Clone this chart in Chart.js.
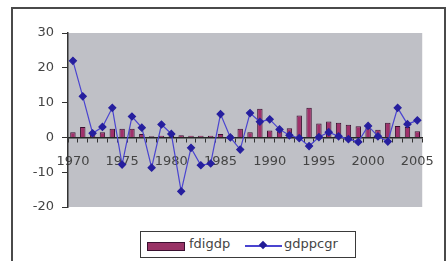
<!DOCTYPE html>
<html>
<head>
<meta charset="utf-8">
<script src="https://cdn.jsdelivr.net/npm/chart.js@4.4.1/dist/chart.umd.min.js"></script>
<style>
    html, body { margin: 0; padding: 0; background: #fff; }
    #wrap { position: relative; width: 446px; height: 261px; overflow: hidden; }
    #frame {
        position: absolute; left: 11px; top: 7px; width: 431px; height: 270px;
        border: 2px solid #4a4a4a; pointer-events: none;
    }
    #legend {
        position: absolute; left: 140px; top: 231px; width: 214px; height: 25px;
        border: 1.5px solid #3a3a3a; background: #fff;
        font: 13px "DejaVu Sans", sans-serif; color: #444;
    }
    .sw-bar { position: absolute; left: 6px; top: 10px; width: 36px; height: 7px; background: #993366; border: 1px solid #3a1030; }
    .sw-line { position: absolute; left: 104px; top: 13px; width: 37px; height: 1.5px; background: #4a44d0; }
    .sw-dot { position: absolute; left: 119px; top: 10px; width: 6px; height: 6px; background: #221c96; transform: rotate(45deg); }
    .lbl { position: absolute; top: 4px; }
</style>
</head>
<body>
<div id="wrap">
    <canvas id="chart" width="446" height="261"></canvas>
    <div id="frame"></div>
    <div id="legend">
        <div class="sw-bar"></div><span class="lbl" style="left:48px">fdigdp</span>
        <div class="sw-line"></div><div class="sw-dot"></div><span class="lbl" style="left:143px">gdppcgr</span>
    </div>
</div>
<script>
// Data
const years = ["1970","1971","1972","1973","1974","1975","1976","1977","1978","1979",
               "1980","1981","1982","1983","1984","1985","1986","1987","1988","1989",
               "1990","1991","1992","1993","1994","1995","1996","1997","1998","1999",
               "2000","2001","2002","2003","2004","2005"];

const fdigdp = [1.5, 3, 1, 1.5, 2.5, 2.5, 2.5, 1, 0.3, 0.5,
                0.5, 0.6, 0.5, 0.5, 0.5, 1, 0.6, 2.5, 1.5, 8.2,
                2, 1.8, 2.6, 6.3, 8.5, 4, 4.6, 4.2, 3.6, 3.2,
                2.7, 2.2, 4.2, 3.3, 3, 1.8];

const gdppcgr = [22, 11.8, 1.2, 3, 8.5, -7.8, 6, 2.8, -8.7, 3.7,
                 1, -15.5, -3, -8, -7.5, 6.7, 0, -3.5, 7, 4.5,
                 5.2, 2.3, 0.6, -0.2, -2.5, 0.1, 1.5, 0.3, -0.5, -1.3,
                 3.3, 0.3, -1.2, 8.5, 3.8, 4.9];

const yTicks = [-20, -10, 0, 10, 20, 30];

// Plot area background
const plotBg = {
    id: 'plotBg',
    beforeDraw(chart) {
        const { ctx, chartArea: a } = chart;
        ctx.save();
        ctx.fillStyle = '#fff';
        ctx.fillRect(0, 0, chart.width, chart.height);
        ctx.fillStyle = '#bfc0c6';
        ctx.fillRect(a.left, a.top, a.right - a.left, a.bottom - a.top);
        ctx.restore();
    }
};

Chart.defaults.font.family = '"DejaVu Sans", sans-serif';
Chart.defaults.font.size = 13;
Chart.defaults.color = '#444';

new Chart(document.getElementById('chart'), {
    data: {
        labels: years,
        datasets: [
            {
                type: 'line',
                label: 'gdppcgr',
                data: gdppcgr,
                borderColor: '#4a44d0',
                borderWidth: 1.2,
                pointStyle: 'rectRot',
                pointRadius: 3.5,
                pointBackgroundColor: '#261f9e',
                pointBorderColor: '#261f9e',
                tension: 0,
                order: 0
            },
            {
                type: 'bar',
                label: 'fdigdp',
                data: fdigdp,
                backgroundColor: '#a0306a',
                borderColor: '#3a1030',
                borderWidth: 1,
                barPercentage: 0.55,
                categoryPercentage: 1,
                order: 1
            }
        ]
    },
    options: {
        responsive: false,
        animation: false,
        layout: { padding: { left: 12, top: 33, right: 11, bottom: 54 } },
        plugins: { legend: { display: false }, tooltip: { enabled: false } },
        scales: {
            x: {
                type: 'category',
                position: { y: 0 },
                offset: true,
                grid: { drawOnChartArea: false, drawTicks: true, tickLength: 4, color: '#333', offset: true },
                border: { color: '#262626', width: 1.5 },
                ticks: {
                    autoSkip: false,
                    maxRotation: 0,
                    padding: 12,
                    callback: function (v, i) { return i % 5 === 0 ? years[i] : ''; }
                }
            },
            y: {
                min: -20,
                max: 30,
                afterFit: function (s) { s.width = 56; },
                afterBuildTicks: function (s) { s.ticks = yTicks.map(v => ({ value: v })); },
                grid: { drawOnChartArea: false, drawTicks: true, tickLength: 6, color: '#333' },
                border: { color: '#333', width: 1.5 },
                ticks: { padding: 8 }
            }
        }
    },
    plugins: [plotBg]
});
</script>
</body>
</html>
